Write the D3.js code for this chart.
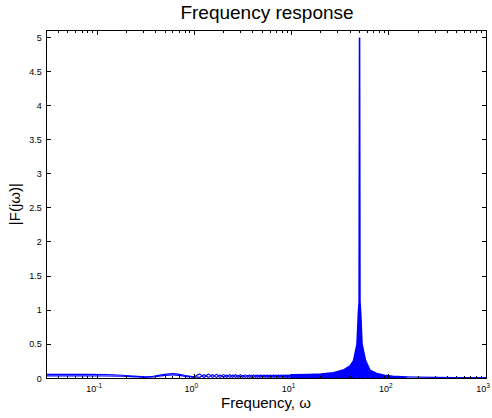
<!DOCTYPE html>
<html><head><meta charset="utf-8">
<script src="https://cdn.jsdelivr.net/npm/d3@7/dist/d3.min.js"></script>
<style>body{margin:0;background:#fff}svg{display:block;font-family:"Liberation Sans",Arial,sans-serif}</style>
</head><body><svg id="c" width="492" height="418"></svg>
<script>
// ---- data ----
const xMajorTicks = [0.1, 1, 10, 100, 1000];
const xTickExponents = ["-1", "0", "1", "2", "3"];
const yTicks = [0, 0.5, 1, 1.5, 2, 2.5, 3, 3.5, 4, 4.5, 5];
const yTickLabels = ["0", "0.5", "1", "1.5", "2", "2.5", "3", "3.5", "4", "4.5", "5"];

// low-frequency part (two close curves)
const lowFreq = [0.0302, 0.05, 0.08, 0.12, 0.18, 0.24, 0.3, 0.38, 0.48, 0.6, 0.72, 0.85, 1.0];
const lowMagA = [0.058, 0.058, 0.057, 0.055, 0.045, 0.032, 0.022, 0.03, 0.055, 0.068, 0.055, 0.035, 0.022];
const lowMagB = [0.035, 0.035, 0.035, 0.034, 0.03, 0.022, 0.015, 0.022, 0.04, 0.05, 0.04, 0.025, 0.015];

// rippling part 1..10 (two interleaved curves)
const rippleFreq = [1.0, 1.13, 1.26, 1.4, 1.53, 1.69, 1.84, 2.0, 2.15, 2.31, 2.48, 2.65, 2.81, 2.98, 3.16, 3.33, 3.51, 3.68, 3.85, 4.05, 4.24, 4.43, 4.63, 4.81, 5.0, 5.2, 5.42, 5.62, 5.82, 6.03, 6.24, 6.47, 6.7, 6.92, 7.13, 7.35, 7.57, 7.79, 8.0, 8.2, 8.4, 8.6, 8.8, 9.0, 9.2, 9.4, 9.6, 9.8, 10.0];
const rippleMagA = [0.02, 0.06, 0.015, 0.06, 0.015, 0.058, 0.015, 0.056, 0.015, 0.055, 0.015, 0.054, 0.015, 0.053, 0.015, 0.052, 0.015, 0.052, 0.015, 0.051, 0.015, 0.05, 0.015, 0.05, 0.015, 0.05, 0.015, 0.05, 0.015, 0.05, 0.015, 0.05, 0.015, 0.05, 0.015, 0.05, 0.015, 0.05, 0.015, 0.05, 0.015, 0.05, 0.015, 0.05, 0.015, 0.05, 0.015, 0.05, 0.015];
const rippleMagB = [0.02, 0.015, 0.05, 0.015, 0.05, 0.015, 0.048, 0.015, 0.047, 0.015, 0.046, 0.015, 0.045, 0.015, 0.045, 0.015, 0.045, 0.015, 0.045, 0.015, 0.045, 0.015, 0.045, 0.015, 0.045, 0.015, 0.045, 0.015, 0.045, 0.015, 0.045, 0.015, 0.045, 0.015, 0.045, 0.015, 0.045, 0.015, 0.045, 0.015, 0.045, 0.015, 0.045, 0.015, 0.045, 0.015, 0.045, 0.015, 0.045];

// dense oscillation region around the resonance: upper envelope (lower is 0)
const bandFreq  = [10, 15, 20, 27, 34, 40, 43.4, 47.1, 48.6, 49.5, 50, 50.5, 51.4, 53.0, 57.6, 63.8, 75, 90, 110, 150];
const bandUpper = [0.05, 0.055, 0.062, 0.08, 0.12, 0.18, 0.26, 0.5, 0.95, 1.12, 5.0, 1.12, 0.95, 0.5, 0.26, 0.12, 0.07, 0.045, 0.03, 0.02];

// high-frequency tail
const tailFreq = [150, 200, 300, 500, 1000];
const tailMag  = [0.02, 0.018, 0.015, 0.012, 0.01];

// ---- layout ----
const svg = d3.select("#c");
const L = 46.7, R = 486, T = 30, B = 378.3;
const x = d3.scaleLog().domain([0.0302, 1000]).range([L, R]);
const y = d3.scaleLinear().domain([0, 5.11]).range([B, T]);
const blue = "#0000ff";

const g = svg.append("g");
g.append("defs").append("clipPath").attr("id", "clip")
  .append("rect").attr("x", L).attr("y", T).attr("width", R - L).attr("height", B - T);
const plot = g.append("g").attr("clip-path", "url(#clip)");

const line = d3.line().x(d => x(d[0])).y(d => y(d[1])).curve(d3.curveMonotoneX);
const zip = (a, b) => a.map((v, i) => [v, b[i]]);

plot.append("path").datum(zip(lowFreq, lowMagA)).attr("d", line)
  .attr("fill", "none").attr("stroke", blue).attr("stroke-width", 1.2);
plot.append("path").datum(zip(lowFreq, lowMagB)).attr("d", line)
  .attr("fill", "none").attr("stroke", blue).attr("stroke-width", 1.2);
plot.append("path").datum(zip(rippleFreq, rippleMagA)).attr("d", line)
  .attr("fill", "none").attr("stroke", blue).attr("stroke-width", 1.2);
plot.append("path").datum(zip(rippleFreq, rippleMagB)).attr("d", line)
  .attr("fill", "none").attr("stroke", blue).attr("stroke-width", 1.2);

const area = d3.area().x(d => x(d[0])).y0(y(0)).y1(d => y(d[1]));
plot.append("path").datum(zip(bandFreq, bandUpper)).attr("d", area)
  .attr("fill", blue).attr("stroke", blue).attr("stroke-width", 1.6).attr("stroke-linejoin", "miter");
plot.append("path").datum(zip(tailFreq, tailMag)).attr("d", d3.line().x(d => x(d[0])).y(d => y(d[1])))
  .attr("fill", "none").attr("stroke", blue).attr("stroke-width", 1.2);

// ---- axes box and ticks (inside, MATLAB style) ----
const ax = svg.append("g").attr("stroke", "#000").attr("shape-rendering", "crispEdges");
ax.append("rect").attr("x", L).attr("y", T).attr("width", R - L).attr("height", B - T)
  .attr("fill", "none").attr("stroke-width", 1);

const minorTicks = [];
[0.01, 0.1, 1, 10, 100].forEach(dec => { for (let k = 2; k <= 9; k++) { const v = k * dec; if (v > 0.0302 && v < 1000) minorTicks.push(v); } });
minorTicks.forEach(v => {
  ax.append("line").attr("x1", x(v)).attr("x2", x(v)).attr("y1", B).attr("y2", B - 2.5);
  ax.append("line").attr("x1", x(v)).attr("x2", x(v)).attr("y1", T).attr("y2", T + 2.5);
});
xMajorTicks.forEach(v => {
  ax.append("line").attr("x1", x(v)).attr("x2", x(v)).attr("y1", B).attr("y2", B - 4.5);
  ax.append("line").attr("x1", x(v)).attr("x2", x(v)).attr("y1", T).attr("y2", T + 4.5);
});
yTicks.forEach(v => {
  ax.append("line").attr("x1", L).attr("x2", L + 4.5).attr("y1", y(v)).attr("y2", y(v));
  ax.append("line").attr("x1", R).attr("x2", R - 4.5).attr("y1", y(v)).attr("y2", y(v));
});

// tick labels
const lab = svg.append("g").attr("fill", "#000");
yTicks.forEach((v, i) => {
  lab.append("text").attr("x", L - 5).attr("y", y(v) + 3.2).attr("text-anchor", "end")
    .attr("font-size", 9).text(yTickLabels[i]);
});
xMajorTicks.forEach((v, i) => {
  const t = lab.append("text").attr("x", x(v) - 3).attr("y", 392).attr("text-anchor", "middle").attr("font-size", 9);
  t.append("tspan").text("10");
  t.append("tspan").attr("dy", -4).attr("font-size", 6.5).text(xTickExponents[i]);
});

// titles
svg.append("text").attr("x", 267).attr("y", 19).attr("text-anchor", "middle")
  .attr("font-size", 19).text("Frequency response");
svg.append("text").attr("x", 266).attr("y", 408).attr("text-anchor", "middle")
  .attr("font-size", 15).text("Frequency, ω");
svg.append("text").attr("transform", "translate(20," + ((T + B) / 2) + ") rotate(-90)")
  .attr("text-anchor", "middle").attr("font-size", 15).text("|F(jω)|");
</script></body></html>
